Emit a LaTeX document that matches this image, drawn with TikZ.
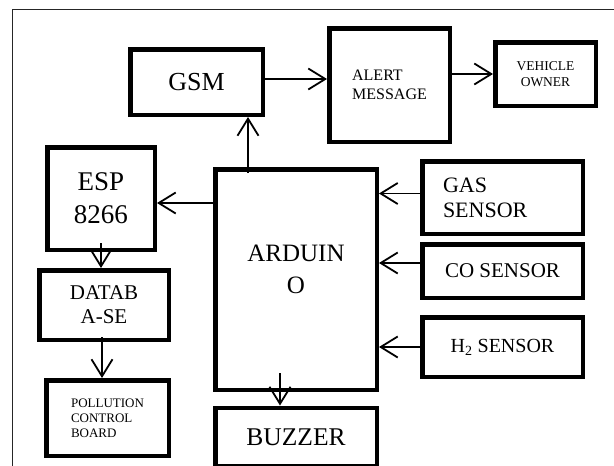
\documentclass[tikz,border=0pt]{standalone}
\usepackage{fontspec}
\setmainfont{Liberation Serif}
\usetikzlibrary{arrows.meta}
\tikzset{
  blk/.style={draw,line width=4.5pt,align=center,inner sep=2pt},
  arr/.style={-{Straight Barb[length=17pt,width=21pt]},line width=1.8pt},
}
\newcommand{\fsz}[2]{\fontsize{#1}{#2}\selectfont}

\begin{document}
\begin{tikzpicture}[x=1pt,y=-1pt]
  \clip (0,0) rectangle (614,466);
  \draw[line width=1pt,black!85] (12,470) -- (12,9) -- (620,9);

  % top row
  \node[blk,minimum width=132.5pt,minimum height=65.5pt,font=\fsz{26}{30}] (gsm) at (196.5,82) {GSM};
  \node[blk,minimum width=120.5pt,minimum height=113.5pt,font=\fsz{16}{18.5},align=left] (alert) at (389.5,85) {ALERT\\MESSAGE};
  \node[blk,minimum width=100.5pt,minimum height=63.5pt,font=\fsz{13.5}{15.5}] (owner) at (545.5,74) {VEHICLE\\OWNER};

  % controller and sensors
  \node[blk,minimum width=161.5pt,minimum height=220.5pt] (ard) at (296,279.5) {};
  \node[font=\fsz{25}{32},align=center] (ardtxt) at ([yshift=10pt]ard.center) {ARDUIN\\O};
  \node[blk,minimum width=160.5pt,minimum height=72.5pt,font=\fsz{22}{25},text width=119pt,align=left] (gas) at (502.5,197.5) {GAS\\SENSOR};
  \node[blk,minimum width=160.5pt,minimum height=53.5pt,font=\fsz{21}{24}] (co) at (502.5,271) {CO SENSOR};
  \node[blk,minimum width=160.5pt,minimum height=59.5pt,font=\fsz{20}{24}] (h2) at (502.5,347) {H\textsubscript{2} SENSOR};
  \node[blk,minimum width=161.5pt,minimum height=58.5pt,font=\fsz{25.5}{30}] (buzzer) at (296,437) {BUZZER};

  % left column
  \node[blk,minimum width=107.5pt,minimum height=102.5pt,font=\fsz{27}{33}] (esp) at (101,198.5) {ESP\\8266};
  \node[blk,minimum width=129.5pt,minimum height=69.5pt,font=\fsz{21}{24}] (db) at (104,305) {DATAB\\A-SE};
  \node[blk,minimum width=122.5pt,minimum height=75.5pt,font=\fsz{13}{15},align=left] (pcb) at (107.5,418) {POLLUTION\\CONTROL\\BOARD};

  % connections
  \draw[arr] ([yshift=3pt]gsm.east) -- ([yshift=3pt]gsm.east -| alert.west);
  \draw[arr] (alert.east |- owner.west) -- (owner.west);
  \draw[arr] ([xshift=-48pt,yshift=-6pt]ard.north) -- ([xshift=-48pt]ard.north |- gsm.south);
  \draw[arr] ([yshift=76.5pt]ard.west) -- ([yshift=76.5pt]ard.west -| esp.east);
  \draw[arr] ([yshift=4pt]gas.west) -- ([yshift=4pt]gas.west -| ard.east);
  \draw[arr] ([yshift=8pt]co.west) -- ([yshift=8pt]co.west -| ard.east);
  \draw[arr] (h2.west) -- (h2.west -| ard.east);
  \draw[arr] ([yshift=9pt]esp.south) -- (esp.south |- db.north);
  \draw[arr] ([xshift=-2pt,yshift=5pt]db.south) -- ([xshift=-2pt]db.south |- pcb.north);
  \draw[arr] ([xshift=-16pt,yshift=19pt]ard.south) -- ([xshift=-16pt]ard.south |- buzzer.north);
\end{tikzpicture}
\end{document}
